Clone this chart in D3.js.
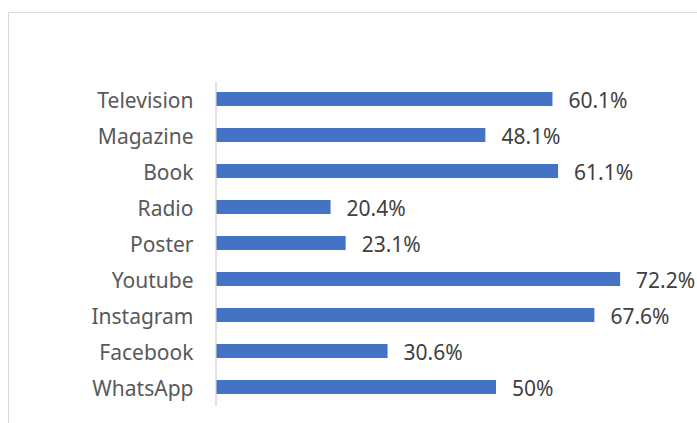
<!DOCTYPE html>
<html><head><meta charset="utf-8">
<script src="https://cdn.jsdelivr.net/npm/d3@7"></script>
<style>html,body{margin:0;padding:0;background:#fff;overflow:hidden}</style>
</head><body><svg id="c" width="697" height="423"></svg>
<script>
const categories = ["Television","Magazine","Book","Radio","Poster","Youtube","Instagram","Facebook","WhatsApp"];
const values = [60.1, 48.1, 61.1, 20.4, 23.1, 72.2, 67.6, 30.6, 50];
const valueLabels = ["60.1%","48.1%","61.1%","20.4%","23.1%","72.2%","67.6%","30.6%","50%"];

const svg = d3.select("#c");
const font = "'Noto Sans', sans-serif";
svg.append("rect").attr("x",8.5).attr("y",12.5).attr("width",900).attr("height",600)
  .attr("fill","none").attr("stroke","#d9d9d9").attr("stroke-width",1);

const x = d3.scaleLinear().domain([0,100]).range([216.5, 216.5+559]);
const y = d3.scaleBand().domain(categories).range([81,405]).paddingInner(0.61).paddingOuter(0.305);

const yAxis = d3.axisLeft(y).tickSize(0).tickPadding(22);
const g = svg.append("g").attr("transform","translate(215.5,0)").call(yAxis);
g.select(".domain").attr("stroke","#d9d9d9").attr("stroke-width",1.5);
g.selectAll("text").attr("font-family",font).attr("font-size",21).attr("fill","#595959").attr("dy","0.42em");

const data = categories.map((c,i)=>({c, v:values[i], l:valueLabels[i]}));
svg.selectAll(".bar").data(data).join("rect").attr("class","bar")
  .attr("x",x(0)).attr("y",d=>y(d.c)).attr("width",d=>x(d.v)-x(0)).attr("height",y.bandwidth())
  .attr("fill","#4472C4");
svg.selectAll(".lbl").data(data).join("text").attr("class","lbl")
  .attr("x",d=>x(d.v)+16).attr("y",d=>y(d.c)+y.bandwidth()/2).attr("dy","0.45em")
  .attr("font-family",font).attr("font-size",21).attr("fill","#404040").text(d=>d.l);
</script></body></html>
